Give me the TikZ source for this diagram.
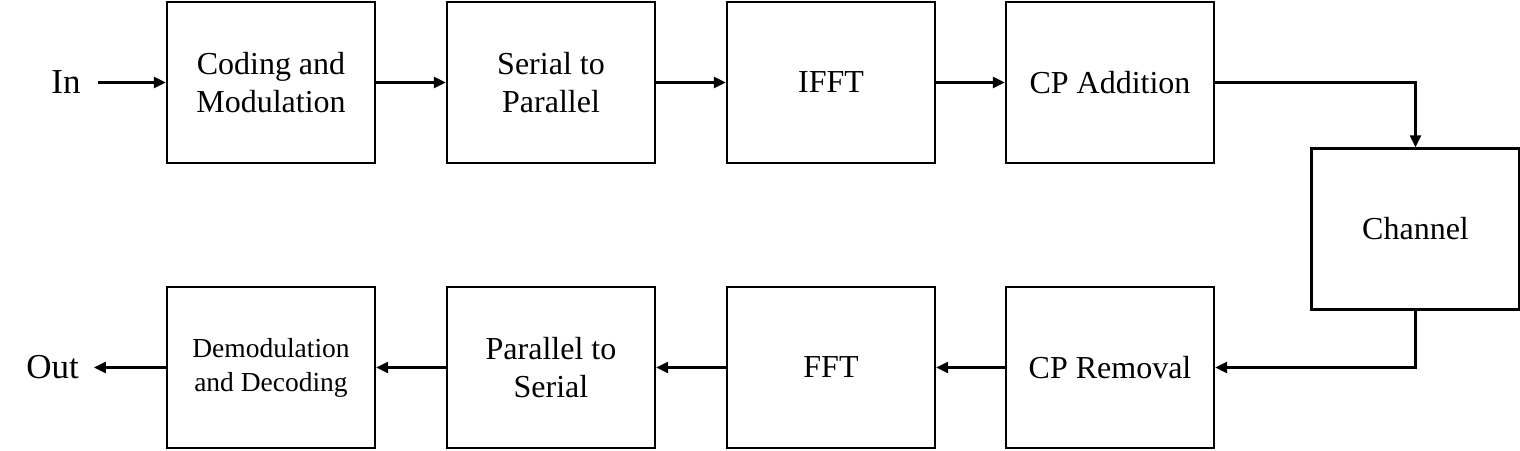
\documentclass[tikz,border=0pt]{standalone}
\usepackage{fontspec}
\setmainfont{Liberation Serif}
\usetikzlibrary{arrows.meta}
\usetikzlibrary{math}

\tikzset{
  block/.style={draw, line width=2.2pt, minimum width=208pt, minimum height=161pt,
    align=center, inner sep=0pt, font=\fontsize{32}{38}\selectfont},
  io/.style={inner ysep=0pt, font=\fontsize{35}{40}\selectfont},
  flow/.style={line width=2.6pt, -{Triangle[length=12pt,width=11pt]}},
}

\begin{document}
\begin{tikzpicture}[x=1pt,y=-1pt]

  \tikzmath{
    \colA   = 271;    % centre of first column
    \colB   = 551;    % centre of second column
    \colC   = 831;    % centre of third column
    \colD   = 1110;   % centre of fourth column
    \colE   = 1415.5; % centre of channel column
    \rowTop = 82.5;   % transmitter row
    \rowMid = 229;    % channel row
    \rowBot = 367.5;  % receiver row
  }

  \useasboundingbox (0,0) rectangle (1520,450);

  % transmitter
  \node[io, inner xsep=17pt] (in) at (66,\rowTop) {In};
  \node[block] (coding) at (\colA,\rowTop) {Coding and\\Modulation};
  \node[block] (s2p)    at (\colB,\rowTop) {Serial to\\Parallel};
  \node[block] (ifft)   at (\colC,\rowTop) {IFFT};
  \node[block] (cpadd)  at (\colD,\rowTop) {CP Addition};

  % channel
  \node[block] (channel) at (\colE,\rowMid) {Channel};

  % receiver
  \node[block] (cprem)  at (\colD,\rowBot) {CP Removal};
  \node[block] (fft)    at (\colC,\rowBot) {FFT};
  \node[block] (p2s)    at (\colB,\rowBot) {Parallel to\\Serial};
  \node[block, font=\fontsize{27.5}{34}\selectfont] (decoding) at (\colA,\rowBot)
    {Demodulation\\and Decoding};
  \node[io, inner xsep=15pt] (out) at (52.5,\rowBot) {Out};

  % connections
  \draw[flow] (in.east) -- (coding.west);
  \draw[flow] (coding.east) -- (s2p.west);
  \draw[flow] (s2p.east) -- (ifft.west);
  \draw[flow] (ifft.east) -- (cpadd.west);
  \draw[flow] (cpadd.east) -| (channel.north);
  \draw[flow] (channel.south) |- (cprem.east);
  \draw[flow] (cprem.west) -- (fft.east);
  \draw[flow] (fft.west) -- (p2s.east);
  \draw[flow] (p2s.west) -- (decoding.east);
  \draw[flow] (decoding.west) -- (out.east);

\end{tikzpicture}
\end{document}
